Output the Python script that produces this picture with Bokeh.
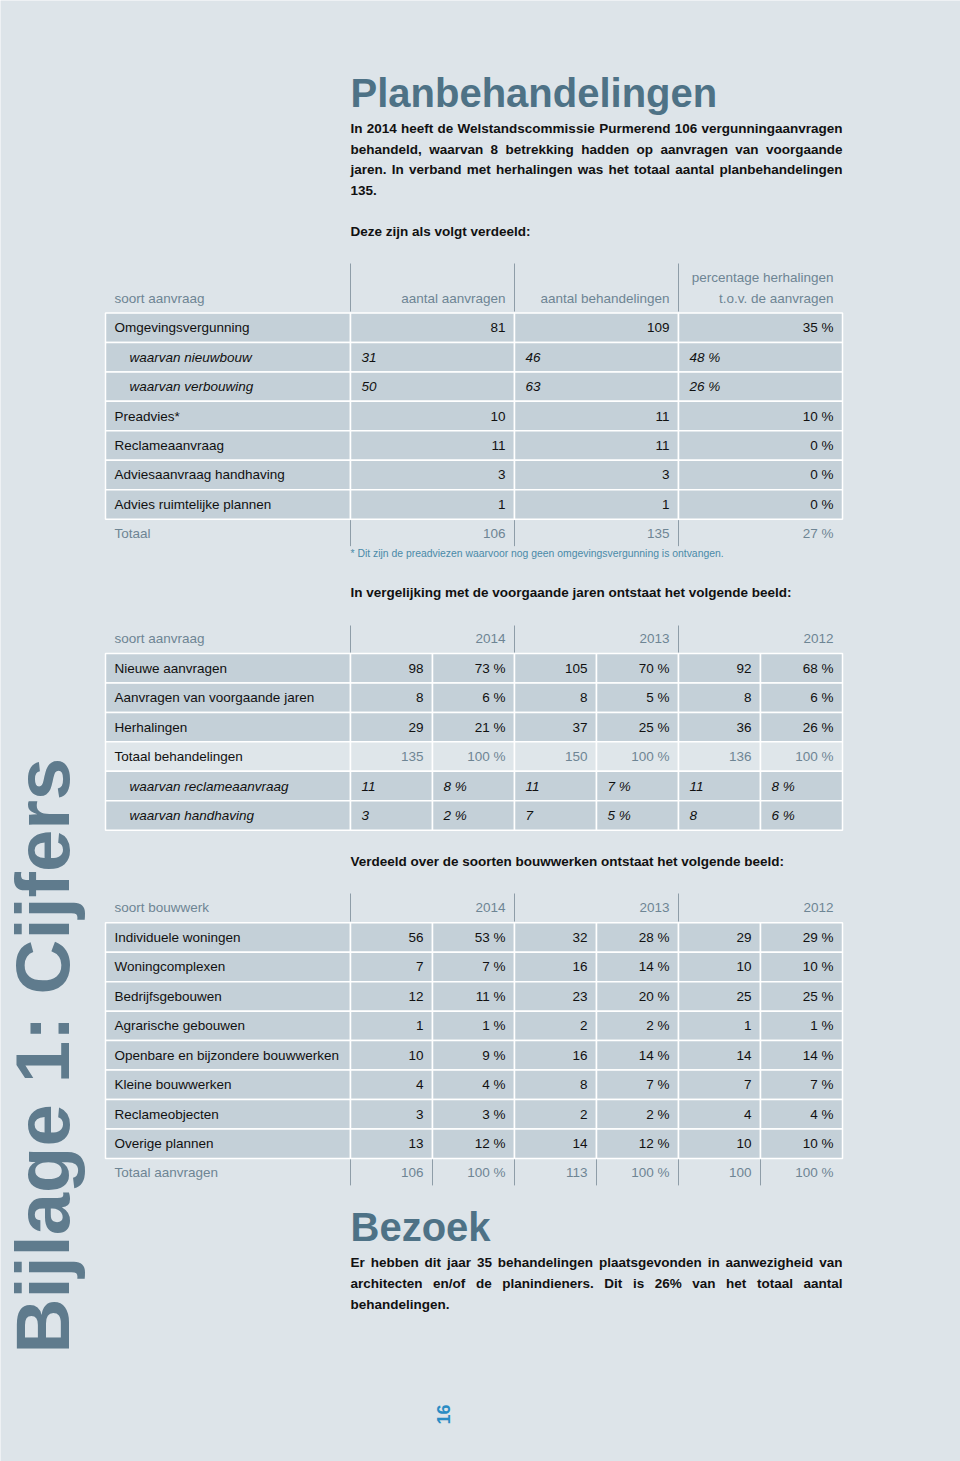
import math
from bokeh.plotting import figure
from bokeh.models import Range1d, ColumnDataSource
from bokeh.core.properties import value
from bokeh.embed import file_html
from bokeh.resources import INLINE

# ------------------------------------------------------------------ data
title_1 = "Planbehandelingen"
intro_lines = [
    "In 2014 heeft de Welstandscommissie Purmerend 106 vergunningaanvragen",
    "behandeld, waarvan 8 betrekking hadden op aanvragen van voorgaande",
    "jaren. In verband met herhalingen was het totaal aantal planbehandelingen",
    "135.",
]
intro_2 = "Deze zijn als volgt verdeeld:"

t1_head = ["soort aanvraag", "aantal aanvragen", "aantal behandelingen", "t.o.v. de aanvragen"]
t1_head_top = "percentage herhalingen"
t1_labels = ["Omgevingsvergunning", "waarvan nieuwbouw", "waarvan verbouwing", "Preadvies*",
             "Reclameaanvraag", "Adviesaanvraag handhaving", "Advies ruimtelijke plannen"]
t1_sub = [False, True, True, False, False, False, False]
t1_aanvragen = [81, 31, 50, 10, 11, 3, 1]
t1_behandelingen = [109, 46, 63, 11, 11, 3, 1]
t1_herhaling_pct = [35, 48, 26, 10, 0, 0, 0]
t1_total_label = "Totaal"
t1_total = [106, 135, 27]
t1_note = "* Dit zijn de preadviezen waarvoor nog geen omgevingsvergunning is ontvangen."

intro_3 = "In vergelijking met de voorgaande jaren ontstaat het volgende beeld:"
years = ["2014", "2013", "2012"]
t2_head = "soort aanvraag"
t2_labels = ["Nieuwe aanvragen", "Aanvragen van voorgaande jaren", "Herhalingen",
             "Totaal behandelingen", "waarvan reclameaanvraag", "waarvan handhaving"]
t2_kind = ["row", "row", "row", "total", "sub", "sub"]
t2_n2014 = [98, 8, 29, 135, 11, 3]
t2_p2014 = [73, 6, 21, 100, 8, 2]
t2_n2013 = [105, 8, 37, 150, 11, 7]
t2_p2013 = [70, 5, 25, 100, 7, 5]
t2_n2012 = [92, 8, 36, 136, 11, 8]
t2_p2012 = [68, 6, 26, 100, 8, 6]

intro_4 = "Verdeeld over de soorten bouwwerken ontstaat het volgende beeld:"
t3_head = "soort bouwwerk"
t3_labels = ["Individuele woningen", "Woningcomplexen", "Bedrijfsgebouwen", "Agrarische gebouwen",
             "Openbare en bijzondere bouwwerken", "Kleine bouwwerken", "Reclameobjecten",
             "Overige plannen"]
t3_n2014 = [56, 7, 12, 1, 10, 4, 3, 13]
t3_p2014 = [53, 7, 11, 1, 9, 4, 3, 12]
t3_n2013 = [32, 16, 23, 2, 16, 8, 2, 14]
t3_p2013 = [28, 14, 20, 2, 14, 7, 2, 12]
t3_n2012 = [29, 10, 25, 1, 14, 7, 4, 10]
t3_p2012 = [29, 10, 25, 1, 14, 7, 4, 10]
t3_total_label = "Totaal aanvragen"
t3_total = [106, 100, 113, 100, 100, 100]

title_2 = "Bezoek"
bezoek_lines = [
    "Er hebben dit jaar 35 behandelingen plaatsgevonden in aanwezigheid van",
    "architecten en/of de planindieners. Dit is 26% van het totaal aantal",
    "behandelingen.",
]
page_number = "16"
side_title = "Bijlage 1: Cijfers"

# ------------------------------------------------------------------ style
BG = "#dde4e9"
CELL = "#c4d0d8"
LIGHT = "#dfe6ea"
HEAD = "#6e8594"
TITLE = "#4e7286"
SIDE = "#5f7b8d"
FOOT = "#4a8aa8"
BLUE = "#2a8cc4"
SEP = "#8e9da8"
INK = "#111111"
FONT = "Liberation Sans"
FS = "13.5px"

BOLD_W = {" ": 278, "!": 333, "%": 889, ",": 278, "-": 333, ".": 278, "/": 278, ":": 333, "*": 389}
for c in "0123456789":
    BOLD_W[c] = 556
BOLD_W.update(dict(zip("abcdefghijklmnopqrstuvwxyz",
                       [556, 611, 556, 611, 556, 333, 611, 611, 278, 278, 556, 278, 889,
                        611, 611, 611, 611, 389, 556, 333, 611, 556, 778, 556, 556, 500])))
BOLD_W.update(dict(zip("ABCDEFGHIJKLMNOPQRSTUVWXYZ",
                       [722, 722, 722, 722, 667, 611, 778, 722, 278, 556, 722, 611, 833,
                        722, 778, 667, 778, 722, 667, 611, 722, 667, 944, 667, 667, 611])))


def wbold(s, size):
    return sum(BOLD_W.get(c, 556) for c in s) / 1000.0 * size


T = {k: [] for k in ["x", "y", "text", "size", "color", "align", "style", "angle"]}
Q = {k: [] for k in ["left", "right", "top", "bottom", "fill"]}
S = {k: [] for k in ["x0", "y0", "x1", "y1"]}


def txt(x, y, s, size=FS, color=INK, align="left", style="normal", angle=0.0):
    T["x"].append(x); T["y"].append(y); T["text"].append(s); T["size"].append(size)
    T["color"].append(color); T["align"].append(align); T["style"].append(style)
    T["angle"].append(angle)


def cell(l, r, t, b, fill=CELL):
    Q["left"].append(l); Q["right"].append(r); Q["top"].append(t); Q["bottom"].append(b)
    Q["fill"].append(fill)


def vsep(x, y0, y1):
    S["x0"].append(x); S["y0"].append(y0); S["x1"].append(x); S["y1"].append(y1)


def paragraph(lines, y0, lh, x0=350.0, x1=842.0, size=13.5):
    for i, line in enumerate(lines):
        y = y0 + i * lh
        words = line.split(" ")
        if i == len(lines) - 1 or len(words) == 1:
            txt(x0, y, line, f"{size}px", style="bold")
            continue
        ws = [wbold(w, size) for w in words]
        gap = (x1 - x0 - sum(ws)) / (len(words) - 1)
        x = x0
        for k, (w, wd) in enumerate(zip(words, ws)):
            if k == len(words) - 1:
                txt(x1, y, w, f"{size}px", style="bold", align="right")
            else:
                txt(x, y, w, f"{size}px", style="bold")
            x += wd + gap


PAD = 9
RH = 29.45
LBL = 114
SUBLBL = 129

# ------------------------------------------------------------------ headings / text
txt(350, 92, title_1, "40px", TITLE, style="bold")
paragraph(intro_lines, 128, 20.7)
txt(350, 231, intro_2, FS, style="bold")

# ------------------------------------------------------------------ table 1
c1 = [105, 350, 514, 678, 842]
for x in c1[1:4]:
    vsep(x, 263, 311)
txt(LBL, 298, t1_head[0], color=HEAD)
for j in range(1, 4):
    txt(c1[j + 1] - PAD, 298, t1_head[j], color=HEAD, align="right")
txt(c1[4] - PAD, 277, t1_head_top, color=HEAD, align="right")

top1 = 312.5
for i, lab in enumerate(t1_labels):
    yt = top1 + i * RH
    yc = yt + RH / 2
    for j in range(4):
        cell(c1[j], c1[j + 1], yt, yt + RH)
    vals = [str(t1_aanvragen[i]), str(t1_behandelingen[i]), f"{t1_herhaling_pct[i]} %"]
    if t1_sub[i]:
        txt(SUBLBL, yc, lab, style="italic")
        for j, v in enumerate(vals):
            txt(c1[j + 1] + 11, yc, v, style="italic")
    else:
        txt(LBL, yc, lab)
        for j, v in enumerate(vals):
            txt(c1[j + 2] - PAD, yc, v, align="right")

yT1 = top1 + len(t1_labels) * RH + 14
for x in c1[1:4]:
    vsep(x, yT1 - 13, yT1 + 13)
txt(LBL, yT1, t1_total_label, color=HEAD)
tv = [str(t1_total[0]), str(t1_total[1]), f"{t1_total[2]} %"]
for j, v in enumerate(tv):
    txt(c1[j + 2] - PAD, yT1, v, color=HEAD, align="right")
txt(350, yT1 + 20, t1_note, "10.4px", FOOT)

# ------------------------------------------------------------------ table 2
txt(350, 592, intro_3, FS, style="bold")
c2 = [105, 350, 432, 514, 596, 678, 760, 842]
for x in (c2[1], c2[3], c2[5]):
    vsep(x, 625, 652)
txt(LBL, 638, t2_head, color=HEAD)
for k, yr in enumerate(years):
    txt(c2[3 + 2 * k] - PAD, 638, yr, color=HEAD, align="right")

top2 = 653.0
cols2 = [t2_n2014, t2_p2014, t2_n2013, t2_p2013, t2_n2012, t2_p2012]
for i, lab in enumerate(t2_labels):
    yt = top2 + i * RH
    yc = yt + RH / 2
    kind = t2_kind[i]
    fill = LIGHT if kind == "total" else CELL
    for j in range(7):
        cell(c2[j], c2[j + 1], yt, yt + RH, fill)
    vals = [str(cols2[j][i]) if j % 2 == 0 else f"{cols2[j][i]} %" for j in range(6)]
    if kind == "sub":
        txt(SUBLBL, yc, lab, style="italic")
        for j, v in enumerate(vals):
            txt(c2[j + 1] + 11, yc, v, style="italic")
    else:
        txt(LBL, yc, lab)
        col = HEAD if kind == "total" else INK
        for j, v in enumerate(vals):
            txt(c2[j + 2] - PAD, yc, v, color=col, align="right")

# ------------------------------------------------------------------ table 3
txt(350, 861, intro_4, FS, style="bold")
for x in (c2[1], c2[3], c2[5]):
    vsep(x, 893, 921)
txt(LBL, 907, t3_head, color=HEAD)
for k, yr in enumerate(years):
    txt(c2[3 + 2 * k] - PAD, 907, yr, color=HEAD, align="right")

top3 = 922.3
cols3 = [t3_n2014, t3_p2014, t3_n2013, t3_p2013, t3_n2012, t3_p2012]
for i, lab in enumerate(t3_labels):
    yt = top3 + i * RH
    yc = yt + RH / 2
    for j in range(7):
        cell(c2[j], c2[j + 1], yt, yt + RH)
    txt(LBL, yc, lab)
    for j in range(6):
        v = str(cols3[j][i]) if j % 2 == 0 else f"{cols3[j][i]} %"
        txt(c2[j + 2] - PAD, yc, v, align="right")

yT3 = top3 + len(t3_labels) * RH + 14
for x in c2[1:7]:
    vsep(x, yT3 - 13, yT3 + 13)
txt(LBL, yT3, t3_total_label, color=HEAD)
for j in range(6):
    v = str(t3_total[j]) if j % 2 == 0 else f"{t3_total[j]} %"
    txt(c2[j + 2] - PAD, yT3, v, color=HEAD, align="right")

# ------------------------------------------------------------------ bezoek
txt(350, 1226, title_2, "40px", TITLE, style="bold")
paragraph(bezoek_lines, 1262, 21)

# ------------------------------------------------------------------ rotated texts
txt(442.5, 1424, page_number, "18px", BLUE, style="bold", angle=math.pi / 2)
txt(42, 1353, side_title, "76px", SIDE, style="bold", angle=math.pi / 2)

# ------------------------------------------------------------------ figure
p = figure(width=960, height=1461, x_range=Range1d(0, 960), y_range=Range1d(1461, 0),
           output_backend="svg", toolbar_location=None, min_border=0)
p.axis.visible = False
p.grid.visible = False
p.outline_line_color = None
p.background_fill_color = BG
p.border_fill_color = BG

p.quad(left="left", right="right", top="top", bottom="bottom", fill_color="fill",
       line_color="white", line_width=1.5, source=ColumnDataSource(Q))
p.segment(x0="x0", y0="y0", x1="x1", y1="y1", line_color=SEP, line_width=1,
          source=ColumnDataSource(S))
p.text(x="x", y="y", text="text", text_font=value(FONT), text_font_size="size",
       text_color="color", text_align="align", text_font_style="style",
       text_baseline="middle", angle="angle", source=ColumnDataSource(T))

open("out.html", "w").write(file_html(p, INLINE))
